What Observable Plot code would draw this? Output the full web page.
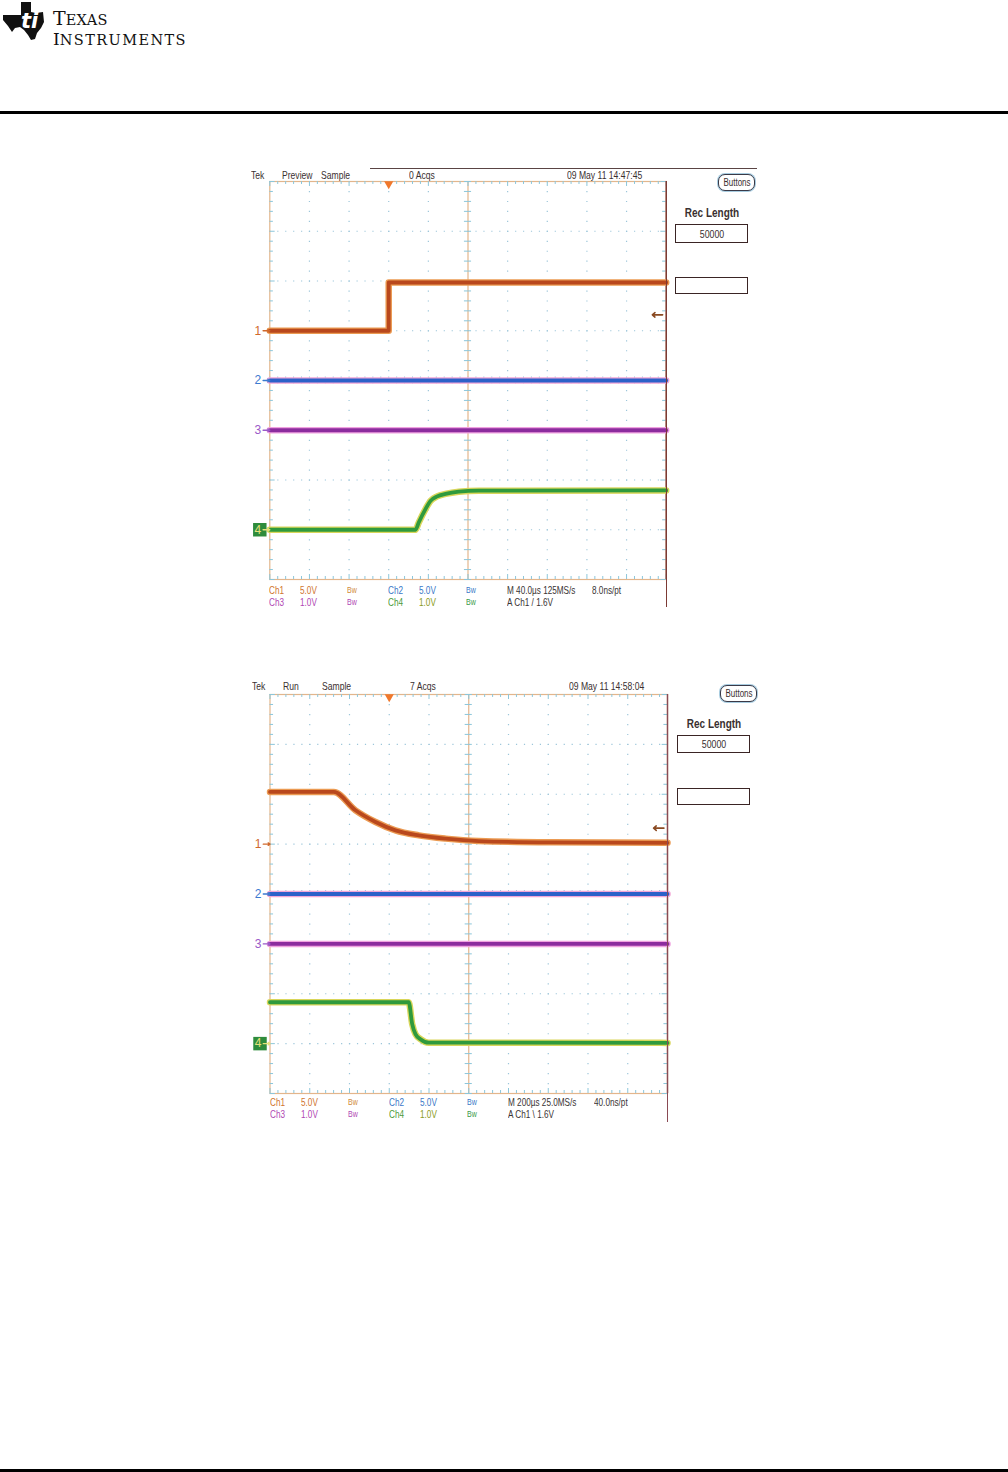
<!DOCTYPE html>
<html><head><meta charset="utf-8">
<script src="https://cdn.jsdelivr.net/npm/d3@7"></script>
<script src="https://cdn.jsdelivr.net/npm/@observablehq/plot@0.6"></script>
<style>
html,body{margin:0;padding:0;background:#fff;}
#page{position:relative;width:1008px;height:1472px;overflow:hidden;background:#fff;
  font-family:"Liberation Sans",Arial,sans-serif;}
.t{position:absolute;white-space:nowrap;font-size:11px;line-height:12px;color:#3a3030;
  transform:scaleX(0.78);transform-origin:left center;}
.t.c{transform:translateX(-50%) scaleX(0.8);transform-origin:center center;}
.box{position:absolute;border:1.5px solid #3a2424;box-sizing:border-box;background:#fff;}
.hl{position:absolute;background:#000;}
</style></head><body><div id="page"></div>
<script>
// ---------------- DATA ----------------
// Screen 1: 40 us/div, trigger Ch1 rising edge at 1.6 V
const s1_time = { start: -120, perDiv: 40 };
const s1_ch1_t = [-120, 0, 0, 280];
const s1_ch1_v = [0, 0, 4.85, 4.85];
const s1_ch2_t = [-120, 280];
const s1_ch2_v = [0, 0];
const s1_ch3_t = [-120, 280];
const s1_ch3_v = [0, 0];
const s1_ch4_t = [-120, 27.0, 30.4, 37.1, 42.2, 48.9, 57.3, 70.7, 90.9, 280];
const s1_ch4_v = [0, 0, 0.15, 0.415, 0.58, 0.67, 0.72, 0.765, 0.785, 0.79];

// Screen 2: 200 us/div, trigger Ch1 falling edge at 1.6 V
const s2_time = { start: -600, perDiv: 200 };
const s2_ch1_t = [-600, -279, -170, -69, 31, 149, 283, 451, 811, 1400];
const s2_ch1_v = [5.23, 5.23, 3.39, 2.22, 1.38, 0.88, 0.55, 0.31, 0.18, 0.13];
const s2_ch2_t = [-600, 1400];
const s2_ch2_v = [0, 0];
const s2_ch3_t = [-600, 1400];
const s2_ch3_v = [0, 0];
const s2_ch4_t = [-600, 98, 115.5, 132, 157, 199, 1400];
const s2_ch4_v = [0.83, 0.83, 0.39, 0.19, 0.09, 0.02, 0.015];

// channel settings (V/div) and ground offsets (divisions from centre)
const chNames = ["1", "2", "3", "4"];
const chVoltsPerDiv = [5.0, 5.0, 1.0, 1.0];
const chOffsetDiv = [1, 0, -1, -3];
const triggerLevel = 1.6;

// screen texts
const s1_header = ["Tek", "Preview", "Sample", "0 Acqs", "09 May 11 14:47:45"];
const s2_header = ["Tek", "Run", "Sample", "7 Acqs", "09 May 11 14:58:04"];
const s1_readout1 = ["Ch1", "5.0V", "Bw", "Ch2", "5.0V", "Bw", "M 40.0\u00b5s 125MS/s", "8.0ns/pt"];
const s1_readout2 = ["Ch3", "1.0V", "Bw", "Ch4", "1.0V", "Bw", "A  Ch1  /  1.6V"];
const s2_readout1 = ["Ch1", "5.0V", "Bw", "Ch2", "5.0V", "Bw", "M 200\u00b5s 25.0MS/s", "40.0ns/pt"];
const s2_readout2 = ["Ch3", "1.0V", "Bw", "Ch4", "1.0V", "Bw", "A  Ch1  \\  1.6V"];
const recLength = "50000";

// ---------------- STYLE ----------------
const page = document.getElementById("page");
const chCore = ["#b9481d", "#2c61c9", "#8c2c9e", "#2f9a3d"];
const chHalo = ["#eb9a52", "#f2a6d6", "#f0a2e0", "#d9d65a"];
const chLabel = ["#d0682c", "#3c7ad0", "#9a5ac8", "#e6e27a"];
const roCol1 = ["#d0742e", "#d0742e", "#d08a3a", "#3a78c8", "#3a78c8", "#3a78c8", "#3a3434", "#3a3434"];
const roCol2 = ["#b048b4", "#b048b4", "#b048b4", "#4a9a3a", "#8a9a20", "#3a9a4a", "#3a3434"];
const frameCol = "#e3b68c", tickCol = "#8cc6da", gridCol = "#9dc6da";

function txt(s, x, yc, opt = {}) {
  const e = document.createElement("div");
  e.className = "t" + (opt.center ? " c" : "");
  e.textContent = s;
  e.style.left = x + "px";
  e.style.top = (yc - 6) + "px";
  if (opt.color) e.style.color = opt.color;
  if (opt.size) e.style.fontSize = opt.size + "px";
  if (opt.bold) e.style.fontWeight = "bold";
  page.appendChild(e);
  return e;
}
function box(x1, y1, x2, y2, extra = {}) {
  const e = document.createElement("div");
  e.className = "box";
  Object.assign(e.style, { left: x1 + "px", top: y1 + "px", width: (x2 - x1) + "px", height: (y2 - y1) + "px" }, extra);
  page.appendChild(e);
  return e;
}
function hline(x1, x2, y, h, col) {
  const e = document.createElement("div");
  e.className = "hl";
  Object.assign(e.style, { left: x1 + "px", top: y + "px", width: (x2 - x1) + "px", height: h + "px", background: col });
  page.appendChild(e);
}

// ---------------- PAGE CHROME ----------------
page.insertAdjacentHTML("beforeend", `
<svg style="position:absolute;left:0;top:0" width="200" height="50">
  <path d="M21,2 L31,2 L31,12 L36,13 L43,12 L44,22 L41,28 L37,33 L35,39 L31,40 L28,35 L24,30 L20,27 L15,28 L12,32 L8,26 L3,20 L3,15 L21,15 Z" fill="#111"/>
  <text x="21" y="28" font-family="DejaVu Sans" font-weight="bold" font-style="italic" font-size="21" fill="#fff">ti</text>
  <text x="53" y="24.5" font-family="DejaVu Serif" fill="#111"><tspan font-size="19">T</tspan><tspan font-size="14.5" letter-spacing="0.3">EXAS</tspan></text>
  <text x="53" y="44.8" font-family="DejaVu Serif" fill="#111"><tspan font-size="17">I</tspan><tspan font-size="14.5" letter-spacing="1.4">NSTRUMENTS</tspan></text>
</svg>`);
hline(0, 1008, 111, 3, "#000");
hline(0, 1008, 1469, 3, "#000");

// ---------------- SCOPE SCREEN ----------------
function scope(cfg) {
  const { time, traces, left, top, width, height, mL, mR, mT, mB } = cfg;
  const d = k => time.start + k * time.perDiv;
  const tEnd = d(10);
  const innerW = width - mL - mR, innerH = height - mT - mB;
  const pxX = innerW / 50, pxY = innerH / 40;
  const minorX = d3.range(0, 51).map(k => ({ x: d(k / 5), major: k % 5 === 0 }));
  const minorY = d3.range(0, 41).map(j => ({ y: -4 + j / 5, major: j % 5 === 0 }));
  const gridX = [1, 2, 3, 4, 6, 7, 8, 9].map(d);
  const gridY = [-3, -2, -1, 1, 2, 3];
  const tx = 0.09 * time.perDiv; // horizontal tick length (time units)
  const chans = chNames.map((n, i) => ({
    name: n, off: chOffsetDiv[i],
    data: traces[i].t.map((tt, j) => ({ t: tt, y: chOffsetDiv[i] + traces[i].v[j] / chVoltsPerDiv[i] })),
    core: chCore[i], halo: chHalo[i], label: chLabel[i], curve: traces[i].curve || "linear"
  }));
  const trigY = chOffsetDiv[0] + triggerLevel / chVoltsPerDiv[0];
  const marks = [
    Plot.ruleX(gridX, { stroke: gridCol, strokeWidth: 1.2, strokeDasharray: `1.2 ${(pxY - 1.2).toFixed(3)}` }),
    Plot.ruleY(gridY, { stroke: gridCol, strokeWidth: 1.2, strokeDasharray: `1.2 ${(pxX - 1.2).toFixed(3)}` }),
    Plot.frame({ stroke: frameCol, strokeWidth: 1.2 }),
    Plot.ruleX([d(5)], { stroke: frameCol, strokeWidth: 1.2 }),
    Plot.ruleY([0], { stroke: frameCol, strokeWidth: 1.2 }),
    Plot.ruleX(minorX, { x: "x", y1: 4, y2: m => m.major ? 3.9 : 3.94, stroke: tickCol }),
    Plot.ruleX(minorX, { x: "x", y1: -4, y2: m => m.major ? -3.9 : -3.94, stroke: tickCol }),
    Plot.ruleX(minorX, { x: "x", y1: -0.07, y2: 0.07, stroke: tickCol }),
    Plot.ruleY(minorY, { y: "y", x1: d(0), x2: m => d(0) + (m.major ? 1.5 : 1) * tx, stroke: tickCol }),
    Plot.ruleY(minorY, { y: "y", x1: tEnd, x2: m => tEnd - (m.major ? 1.5 : 1) * tx, stroke: tickCol }),
    Plot.ruleY(minorY, { y: "y", x1: d(5) - tx, x2: d(5) + tx, stroke: tickCol }),
    Plot.ruleX([tEnd], { stroke: "#7c3a34", strokeWidth: 1.4 }),
  ];
  for (const c of chans) {
    marks.push(Plot.line(c.data, { x: "t", y: "y", stroke: c.halo, strokeWidth: 6.5, curve: c.curve }));
  }
  for (const c of chans) {
    marks.push(Plot.line(c.data, { x: "t", y: "y", stroke: c.core, strokeWidth: 3.8, curve: c.curve }));
  }
  marks.push(
    Plot.dot(chans.filter(c => c.name === "4"), { x: d(0), y: "off", symbol: "square", r: 7.6, fill: "#2e8c3c", dx: -10 }),
    Plot.text(chans, { x: d(0), y: "off", text: "name", fill: "label", dx: -12, fontSize: 12, fontFamily: "Liberation Sans, sans-serif" }),
    Plot.arrow(chans, { x1: d(-0.17), x2: d(0), y1: "off", y2: "off", stroke: "label", strokeWidth: 1.3, headLength: 4, headAngle: 70 }),
    Plot.dot([0], { x: t => t, y: 4, symbol: "triangle", rotate: 180, r: 3.4, fill: "#f0782c", dy: 2.5 }),
    Plot.arrow([trigY], { x1: tEnd - 0.09 * time.perDiv, x2: tEnd - 0.35 * time.perDiv, y1: v => v, y2: v => v, stroke: "#8a4a22", strokeWidth: 1.6, headLength: 5, headAngle: 80, bend: 0, insetStart: 0, insetEnd: 0 })
  );
  const svg = Plot.plot({
    width, height, marginLeft: mL, marginRight: mR, marginTop: mT, marginBottom: mB,
    x: { domain: [time.start, tEnd], axis: null },
    y: { domain: [-4, 4], axis: null },
    style: { background: "transparent", overflow: "visible" },
    marks
  });
  svg.style.position = "absolute";
  svg.style.left = left + "px";
  svg.style.top = top + "px";
  page.appendChild(svg);
  return svg;
}

// ---------------- SCREEN 1 ----------------
scope({
  time: s1_time, left: 245, top: 160, width: 520, height: 460, mL: 24.3, mR: 99.3, mT: 21, mB: 41,
  traces: [
    { t: s1_ch1_t, v: s1_ch1_v }, { t: s1_ch2_t, v: s1_ch2_v },
    { t: s1_ch3_t, v: s1_ch3_v }, { t: s1_ch4_t, v: s1_ch4_v, curve: "monotone-x" }
  ]
});
hline(370, 757, 168, 1, "#5a4444");
hline(665.5, 667, 181, 426, "#7c3a34");
[[251, s1_header[0]], [282, s1_header[1]], [321, s1_header[2]], [409, s1_header[3]], [567, s1_header[4]]]
  .forEach(([x, s]) => txt(s, x, 175));
box(718, 174, 755, 191, { borderRadius: "7px", border: "1.3px solid #3a3a48", boxShadow: "0 0 0 1px #a8cce0" });
txt("Buttons", 736.5, 182.5, { center: true, size: 10 });
txt("Rec Length", 712, 213, { center: true, bold: true, size: 12.5 });
box(675, 224, 748, 243);
txt(recLength, 711.5, 233.5, { center: true });
box(675, 277, 748, 294);
const roX1 = [269, 300, 347, 388, 419, 466, 507, 592];
s1_readout1.forEach((s, i) => txt(s, roX1[i], 590, { color: roCol1[i], size: i === 2 || i === 5 ? 9 : 10.5 }));
s1_readout2.forEach((s, i) => txt(s, roX1[i], 602, { color: roCol2[i], size: i === 2 || i === 5 ? 9 : 10.5 }));

// ---------------- SCREEN 2 ----------------
scope({
  time: s2_time, left: 245, top: 672, width: 520, height: 460, mL: 24.5, mR: 98, mT: 22, mB: 39,
  traces: [
    { t: s2_ch1_t, v: s2_ch1_v, curve: "monotone-x" }, { t: s2_ch2_t, v: s2_ch2_v },
    { t: s2_ch3_t, v: s2_ch3_v }, { t: s2_ch4_t, v: s2_ch4_v, curve: "monotone-x" }
  ]
});
hline(666.5, 668, 694, 428, "#8a4a54");
[[252, s2_header[0]], [283, s2_header[1]], [322, s2_header[2]], [410, s2_header[3]], [569, s2_header[4]]]
  .forEach(([x, s]) => txt(s, x, 686));
box(720, 685, 757, 702, { borderRadius: "7px", border: "1.3px solid #3a3a48", boxShadow: "0 0 0 1px #a8cce0" });
txt("Buttons", 738.5, 693.5, { center: true, size: 10 });
txt("Rec Length", 713.5, 724, { center: true, bold: true, size: 12.5 });
box(677, 735, 750, 753);
txt(recLength, 713.5, 744, { center: true });
box(677, 788, 750, 805);
const roX2 = [270, 301, 348, 389, 420, 467, 508, 594];
s2_readout1.forEach((s, i) => txt(s, roX2[i], 1102, { color: roCol1[i], size: i === 2 || i === 5 ? 9 : 10.5 }));
s2_readout2.forEach((s, i) => txt(s, roX2[i], 1114, { color: roCol2[i], size: i === 2 || i === 5 ? 9 : 10.5 }));
</script></body></html>
